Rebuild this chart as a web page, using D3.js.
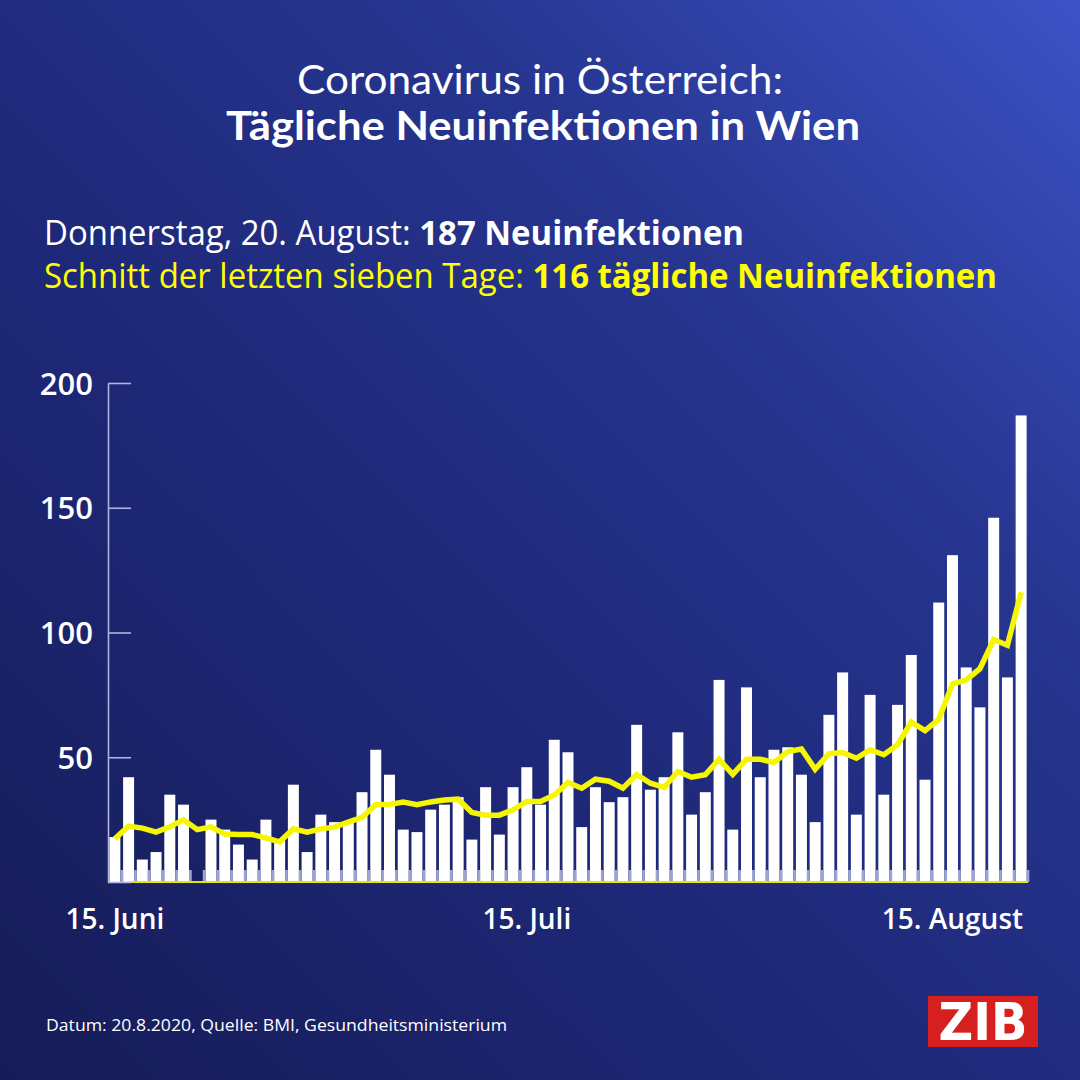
<!DOCTYPE html>
<html>
<head>
<meta charset="utf-8">
<script src="https://cdn.jsdelivr.net/npm/d3@7"></script>
<style>
  html, body { margin: 0; padding: 0; background: #1c2470; }
  svg { display: block; }
</style>
</head>
<body>
<svg id="chart" width="1080" height="1080" font-family="Open Sans, sans-serif"></svg>
<script>
// daily new infections in Vienna, 15 June - 20 August 2020
var startDay = "2020-06-15";
var cases = [18, 42, 9, 12, 35, 31, 0, 25, 21, 15, 9, 25, 17, 39, 12, 27, 24, 24, 36, 53,
  43, 21, 20, 29, 31, 34, 17, 38, 19, 38, 46, 31, 57, 52, 22, 38, 32, 34, 63, 37,
  42, 60, 27, 36, 81, 21, 78, 42, 53, 54, 43, 24, 67, 84, 27, 75, 35, 71, 91, 41,
  112, 131, 86, 70, 146, 82, 187];
// seven day average as drawn (yellow line)
var avg7 = [17.3, 22.4, 21.6, 20, 22.1, 25, 21, 22.1, 19.2, 19, 19, 17.7, 16.1, 21.3, 20, 21.3, 22, 24, 25.9, 31.1,
  31.1, 32, 31, 32.1, 32.9, 33.2, 27.9, 26.8, 26.8, 28.9, 32.3, 32.3, 34.9, 39.9, 37.6, 41.2, 40.4, 37.6, 43.1, 39.6,
  37.9, 44.3, 42, 43, 49.2, 43.1, 49.2, 49.2, 47.9, 52.3, 53.3, 45.2, 51.4, 51.9, 49.6, 53, 51, 55, 64.1, 60.7,
  65.2, 79.4, 81, 85.5, 97.2, 94.9, 116.1];
var yTicks = [0, 50, 100, 150, 200];
var xTickDays = ["2020-06-15", "2020-07-15", "2020-08-15"];
var xTickLabels = ["15. Juni", "15. Juli", "15. August"];

var svg = d3.select("#chart"),
    width = +svg.attr("width"),
    height = +svg.attr("height");

var parse = d3.timeParse("%Y-%m-%d"),
    fmt = d3.timeFormat("%Y-%m-%d");
var first = parse(startDay);
var days = d3.timeDay.range(first, d3.timeDay.offset(first, cases.length)).map(fmt);

// background
var defs = svg.append("defs");
var grad = defs.append("linearGradient")
    .attr("id", "bg")
    .attr("x1", "1").attr("y1", "0")
    .attr("x2", "0").attr("y2", "1");
grad.append("stop").attr("offset", "0%").attr("stop-color", "#3c52c6");
grad.append("stop").attr("offset", "30%").attr("stop-color", "#26358f");
grad.append("stop").attr("offset", "60%").attr("stop-color", "#1e2878");
grad.append("stop").attr("offset", "100%").attr("stop-color", "#161c57");
svg.append("rect").attr("width", width).attr("height", height).attr("fill", "url(#bg)");

// scales
var x = d3.scaleBand().domain(days).range([108, 1028]).paddingInner(0.2).paddingOuter(0.1);
var y = d3.scaleLinear().domain([0, 200]).range([882, 383]);
var step = x.step();

// title
svg.append("text")
    .attr("x", 540).attr("y", 94)
    .attr("text-anchor", "middle")
    .attr("fill", "#fff")
    .attr("font-family", "Lato, sans-serif")
    .attr("font-size", 40)
    .attr("textLength", 486).attr("lengthAdjust", "spacingAndGlyphs")
    .text("Coronavirus in Österreich:");
svg.append("text")
    .attr("x", 543).attr("y", 140)
    .attr("text-anchor", "middle")
    .attr("fill", "#fff")
    .attr("font-family", "Lato, sans-serif")
    .attr("font-size", 40)
    .attr("font-weight", 700)
    .attr("textLength", 634).attr("lengthAdjust", "spacingAndGlyphs")
    .text("Tägliche Neuinfektionen in Wien");

var sub1 = svg.append("text")
    .attr("x", 44).attr("y", 245)
    .attr("fill", "#fff")
    .attr("font-size", 34)
    .attr("textLength", 700).attr("lengthAdjust", "spacingAndGlyphs");
sub1.append("tspan").text("Donnerstag, 20. August: ");
sub1.append("tspan").attr("font-weight", 700).text(d3.format("d")(cases[cases.length - 1]) + " Neuinfektionen");

var sub2 = svg.append("text")
    .attr("x", 44).attr("y", 288)
    .attr("fill", "#ffff00")
    .attr("font-size", 34)
    .attr("textLength", 953).attr("lengthAdjust", "spacingAndGlyphs");
sub2.append("tspan").text("Schnitt der letzten sieben Tage: ");
sub2.append("tspan").attr("font-weight", 700).text("116 tägliche Neuinfektionen");

// bars
svg.append("g")
  .selectAll("rect")
  .data(cases)
  .enter().append("rect")
    .attr("x", function(d, i) { return x(days[i]); })
    .attr("y", function(d) { return y(d); })
    .attr("width", x.bandwidth())
    .attr("height", function(d) { return y(0) - y(d); })
    .attr("fill", "#ffffff");

// small day ticks between the bars
svg.append("g")
  .selectAll("line")
  .data(days)
  .enter().append("line")
    .attr("x1", function(d) { return x(d) + x.bandwidth() + step * 0.1; })
    .attr("x2", function(d) { return x(d) + x.bandwidth() + step * 0.1; })
    .attr("y1", y(0) - 12)
    .attr("y2", y(0))
    .attr("stroke", "#9fa3d2")
    .attr("stroke-width", 2.7);

// y axis
var yAxis = svg.append("g")
    .attr("transform", "translate(108,0)")
    .call(d3.axisLeft(y)
      .tickValues(yTicks)
      .tickSize(-23)
      .tickSizeOuter(0)
      .tickPadding(15)
      .tickFormat(function(d) { return d === 0 ? "" : d; }));
yAxis.attr("font-family", "Open Sans, sans-serif").attr("font-size", 31);
yAxis.selectAll("path, line").attr("stroke", "#b0b4dc").attr("stroke-width", 1.6);
yAxis.selectAll("text")
    .attr("fill", "#fff")
    .attr("font-weight", 600)
    .attr("dy", "0.36em");

// baseline
svg.append("line")
    .attr("x1", 131).attr("x2", 1028)
    .attr("y1", y(0)).attr("y2", y(0))
    .attr("stroke", "#e6e600")
    .attr("stroke-width", 2);

// x axis labels
var xAxis = svg.append("g")
    .attr("transform", "translate(0," + y(0) + ")")
    .call(d3.axisBottom(x)
      .tickValues(xTickDays)
      .tickSize(0)
      .tickPadding(20)
      .tickFormat(function(d, i) { return xTickLabels[i]; }));
xAxis.attr("font-family", "Open Sans, sans-serif").attr("font-size", 28);
xAxis.select(".domain").remove();
xAxis.selectAll("text")
    .attr("fill", "#fff")
    .attr("font-weight", 600)
    .attr("dy", "0.95em");

// seven day average
var line = d3.line()
    .x(function(d, i) { return x(days[i]) + x.bandwidth() / 2; })
    .y(function(d) { return y(d); });
svg.append("path")
    .datum(avg7)
    .attr("d", line)
    .attr("fill", "none")
    .attr("stroke", "#f6f600")
    .attr("stroke-width", 5.5)
    .attr("stroke-linejoin", "miter");

// source
svg.append("text")
    .attr("x", 46).attr("y", 1031)
    .attr("fill", "#fff")
    .attr("font-size", 17)
    .attr("textLength", 461).attr("lengthAdjust", "spacingAndGlyphs")
    .text("Datum: 20.8.2020, Quelle: BMI, Gesundheitsministerium");

// ZIB logo
svg.append("rect")
    .attr("x", 928).attr("y", 996)
    .attr("width", 110).attr("height", 51)
    .attr("fill", "#d6201f");
svg.append("text")
    .attr("x", 983).attr("y", 1040)
    .attr("text-anchor", "middle")
    .attr("fill", "#fff")
    .attr("font-family", "DejaVu Sans, sans-serif")
    .attr("font-weight", 700)
    .attr("font-size", 51)
    .attr("textLength", 89).attr("lengthAdjust", "spacingAndGlyphs")
    .text("ZIB");
</script>
</body>
</html>
